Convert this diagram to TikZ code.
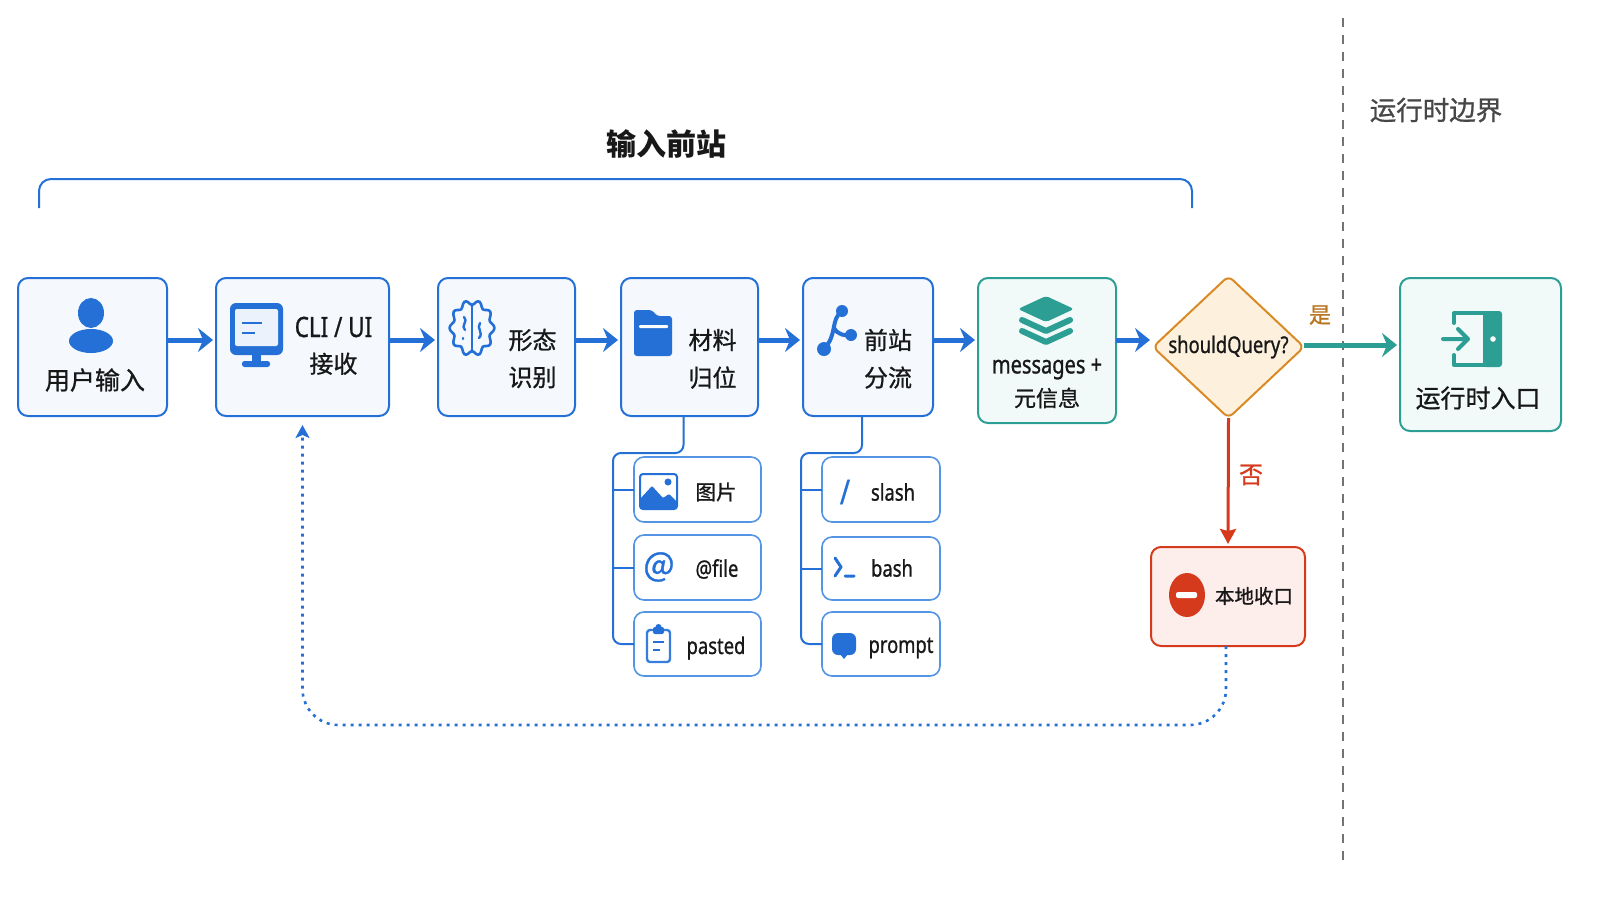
\documentclass[tikz,border=0pt]{standalone}
\usepackage{fontspec}
\usepackage{xcolor}
\setmainfont{Noto Sans CJK SC}[UprightFeatures={FakeBold=0.9}]
\newfontfamily\latinfont[FakeStretch=0.8,FakeBold=0.9]{Noto Sans}
\usetikzlibrary{arrows.meta,shapes.geometric,positioning}
\definecolor{flowblue}{RGB}{36,112,214}
\definecolor{subblue}{RGB}{84,148,228}
\definecolor{paleblue}{RGB}{245,249,254}
\definecolor{flowteal}{RGB}{44,158,148}
\definecolor{paleteal}{RGB}{241,250,249}
\definecolor{gateorange}{RGB}{217,138,36}
\definecolor{paleorange}{RGB}{253,241,222}
\definecolor{stopred}{RGB}{214,58,28}
\definecolor{palered}{RGB}{253,237,235}
\definecolor{inktext}{RGB}{24,24,24}

\begin{document}
\begin{tikzpicture}[
    x=1pt, y=-1pt,
    block/.style={rectangle, draw=flowblue, fill=paleblue, line width=2pt, rounded corners=10pt, outer sep=0pt, minimum height=138pt},
    tealblock/.style={block, draw=flowteal, fill=paleteal},
    subblock/.style={rectangle, draw=subblue, fill=white, line width=1.6pt, rounded corners=10pt, outer sep=0pt, minimum height=64pt},
    caption/.style={font=\fontsize{24}{28}\selectfont, text=inktext, inner sep=0pt},
    subcaption/.style={font=\latinfont\fontsize{23}{27}\selectfont, text=inktext, inner sep=0pt},
    arrow/.style={-{Stealth[length=15pt,width=24pt,inset=5pt]}, line width=5pt, flowblue, shorten >=3pt},
    tree/.style={flowblue, line width=2pt, rounded corners=8pt},
    iconline/.style={draw=flowblue, line width=3pt, line cap=round, line join=round}
]
\useasboundingbox (0,0) rectangle (1600,900);

% Main pipeline
\coordinate (flow) at (0,340);
\node[block, minimum width=149pt, anchor=north west] (user) at (18,278) {};
\node[block, minimum width=173pt, right=49pt of user.north east, anchor=north west] (cli) {};
\node[block, minimum width=137pt, right=49pt of cli.north east, anchor=north west] (shape) {};
\node[block, minimum width=137pt, right=46pt of shape.north east, anchor=north west] (material) {};
\node[block, minimum width=130pt, right=45pt of material.north east, anchor=north west] (split) {};
\node[tealblock, minimum width=138pt, minimum height=145pt, right=45pt of split.north east, anchor=north west] (meta) {};
\node[diamond, draw=gateorange, fill=paleorange, line width=2pt, rounded corners=6pt, aspect=1.06, inner sep=0pt, outer sep=0pt, minimum width=151pt, minimum height=142pt, font=\latinfont\fontsize{23}{27}\selectfont, text=inktext] (query) at (1228.5,347) {\raisebox{-3pt}{shouldQuery?}};
\node[tealblock, minimum width=161pt, minimum height=153pt, anchor=north west] (entry) at (1400,278) {};
\node[block, draw=stopred, fill=palered, minimum width=154pt, minimum height=99pt, anchor=north west] (local) at (1151,547) {};

% Captions
\node[caption, font=\fontsize{25}{29}\selectfont] (usertext) at (95,380) {用户输入};
\node[caption, font=\latinfont\fontsize{28}{32}\selectfont, xshift=31pt, yshift=20pt] (clitext) at (cli) {CLI / UI};
\node[caption, below=15pt of clitext] (clitexttwo) {接收};
\node[caption, xshift=26pt, yshift=7pt] (shapetext) at (shape) {形态};
\node[caption, below=15pt of shapetext] (shapetexttwo) {识别};
\node[caption, xshift=23pt, yshift=7pt] (materialtext) at (material) {材料};
\node[caption, below=15pt of materialtext] (materialtexttwo) {归位};
\node[caption, xshift=20pt, yshift=7pt] (splittext) at (split) {前站};
\node[caption, below=15pt of splittext] (splittexttwo) {分流};
\node[caption, font=\latinfont\fontsize{25}{29}\selectfont] (metatext) at (1047,369) {messages +};
\node[caption, font=\fontsize{22}{26}\selectfont] (metatexttwo) at (1047,398) {元信息};
\node[caption, font=\fontsize{25}{29}\selectfont] (entrytext) at (1478,398) {运行时入口};
\node[caption, font=\fontsize{19.5}{24}\selectfont] (localtext) at (1254,596) {本地收口};

% Material and routing items
\node[subblock, minimum width=127pt, minimum height=65pt, anchor=north west] (image) at (634,457) {};
\node[subblock, minimum width=127pt, minimum height=65pt, anchor=north west] (file) at (634,535) {};
\node[subblock, minimum width=127pt, anchor=north west] (pasted) at (634,612) {};
\node[subblock, minimum width=118pt, minimum height=65pt, anchor=north west] (slash) at (822,457) {};
\node[subblock, minimum width=118pt, minimum height=63pt, anchor=north west] (bash) at (822,537) {};
\node[subblock, minimum width=118pt, anchor=north west] (prompt) at (822,612) {};
\node[caption, font=\fontsize{20.5}{24}\selectfont] (imagetext) at (716,492) {图片};
\node[subcaption] (filetext) at (717,569) {@file};
\node[subcaption] (pastedtext) at (716,648) {pasted};
\node[subcaption] (slashtext) at (893,492) {slash};
\node[subcaption] (bashtext) at (892,568) {bash};
\node[subcaption] (prompttext) at (901,648) {prompt};

% Bracket and boundary
\coordinate (bracketleft) at (39,208);
\coordinate (bracketright) at (1192,208);
\draw[flowblue, line width=2pt, rounded corners=12pt] (bracketleft) -- (39,179) -- (1192,179) -- (bracketright);
\coordinate (boundtop) at (1343,18);
\coordinate (boundend) at (1343,862);
\draw[black!55, line width=2.8pt, dash pattern=on 9pt off 8pt] (boundtop) -- (boundend);

% Arrows
\foreach \from/\to in {user/cli, cli/shape, shape/material, material/split, split/meta}
    \draw[arrow] (\from.east |- flow) -- (\to.west |- flow);
\draw[arrow] (meta.east |- flow) -- (query.west |- flow);
\draw[arrow, flowteal] ([yshift=2pt]query.east) -- ([yshift=2pt]query.east -| entry.west);
\draw[arrow, stopred, line width=3pt, -{Stealth[length=15pt,width=16pt,inset=2pt]}] (query.south) -- (local.north);
\coordinate (returnline) at (0,725);
\draw[flowblue, line width=2.6pt, dash pattern=on 3pt off 5pt, rounded corners=36pt, -{Stealth[length=13pt,width=14pt,inset=3pt]}, shorten >=9pt] ([xshift=-2pt]local.south) |- (cli.south |- returnline) -- (cli.south);

% Trees under the pipeline
\coordinate (leftrail) at (613,453);
\coordinate (rightrail) at (801,453);
\draw[tree] ([xshift=-6pt]material.south) |- (leftrail) |- (pasted.west);
\draw[tree] (leftrail |- image.west) -- (image.west);
\draw[tree] (leftrail |- file.west) -- (file.west);
\draw[tree] ([xshift=-6pt]split.south) |- (rightrail) |- (prompt.west);
\draw[tree] (rightrail |- slash.west) -- (slash.west);
\draw[tree] (rightrail |- bash.west) -- (bash.west);

% Labels
\node[font=\fontsize{30}{34}\selectfont\bfseries, text=inktext, inner sep=0pt] (fronttitle) at (666,144) {输入前站};
\node[font=\fontsize{26.5}{30}\selectfont, text=black!72, inner sep=0pt] (runtimetitle) at (1436,110) {运行时边界};
\node[font=\fontsize{22}{26}\selectfont, text=gateorange!85!black, inner sep=0pt] (yestext) at (1320,315) {是};
\node[font=\fontsize{24}{28}\selectfont, text=stopred, inner sep=0pt] (notext) at (1251,475) {否};

% Icons
\fill[flowblue] (91,313) ellipse [x radius=13, y radius=15];
\fill[flowblue] (91,341) ellipse [x radius=22, y radius=12];
\fill[flowblue, rounded corners=6pt] (230,303) rectangle (283,355);
\fill[paleblue!70!subblue!35, rounded corners=2pt] (235,309) rectangle (278,346);
\fill[flowblue] (252,355) rectangle (261,362);
\fill[flowblue, rounded corners=2.5pt] (242,361) rectangle (270,367);
\draw[flowblue, line width=2.4pt] (242,323) -- (262,323) (242,333) -- (255,333);
\draw[iconline, line width=2.6pt] plot[smooth cycle, domain=0:355, samples=72, variable=\t] ({472+(20.5+2*cos(10*\t))*cos(\t)},{328+(25.5+2.5*cos(10*\t))*sin(\t)});
\draw[iconline, line width=2.6pt] (472,304) -- (472,352);
\draw[iconline, line width=2.4pt] (464,317) .. controls (469,321) and (460,326) .. (465,330) (480,323) .. controls (476,328) and (484,333) .. (479,338) (463,338) -- (463,339);
\fill[flowblue, rounded corners=3pt] (634,310) -- (652,310) -- (657,316) -- (672,316) -- (672,356) -- (634,356) -- cycle;
\fill[white, rounded corners=1pt] (639,325) rectangle (668,328);
\draw[flowblue, line width=4pt, line cap=round] (842,311) .. controls (830,320) and (838,334) .. (824,349) (834,328) .. controls (838,335) and (845,336) .. (851,335);
\fill[flowblue] (842,311) circle (6) (824,349) circle (7) (851,335) circle (6);
\fill[flowteal, rounded corners=3pt] (1046,296) -- (1074,309) -- (1046,322) -- (1018,309) -- cycle;
\draw[flowteal, line width=6pt, line cap=round, line join=round] (1022,320) -- (1046,331) -- (1070,320) (1022,331) -- (1046,342) -- (1070,331);
\draw[flowteal, line width=4pt, line cap=round, line join=round] (1454,323) |- (1486,313) (1454,355) |- (1486,365);
\fill[flowteal, rounded corners=3pt] (1483,311) rectangle (1502,367);
\fill[white] (1493,339) circle (2.8);
\draw[flowteal, line width=4pt, line cap=round, line join=round] (1443,339) -- (1468,339) (1458,329) -- (1468,339) -- (1458,349);
\fill[stopred] (1187,595) ellipse [x radius=18, y radius=22];
\fill[white, rounded corners=2pt] (1176,592) rectangle (1197,598);
% Item icons
\draw[flowblue, fill=white, line width=2pt, rounded corners=3pt] (640,474) rectangle (677,509);
\fill[flowblue, rounded corners=1pt] (640,509) -- (640,499) -- (652,486) -- (663,498) -- (669,494) -- (677,502) -- (677,509) -- cycle;
\fill[flowblue] (668,482) circle (3.5);
\node[font=\fontsize{33}{36}\selectfont, text=flowblue, inner sep=0pt] (aticon) at (659,567) {@};
\draw[subblue!40!flowblue, line width=2.4pt, rounded corners=3pt] (647,630) rectangle (670,662);
\fill[flowblue, rounded corners=2pt] (653,627) rectangle (664,634);
\fill[flowblue] (658.5,627) circle (3);
\draw[flowblue, line width=2.2pt] (653,642) -- (664,642) (653,650) -- (660,650);
\node[font=\latinfont\fontsize{34}{38}\selectfont, text=flowblue, inner sep=0pt] (slashicon) at (845,492) {/};
\draw[iconline] (835,558) -- (841,567) -- (835,576) (845,576) -- (854,576);
\fill[flowblue, rounded corners=6pt] (832,633) rectangle (856,655);
\fill[flowblue] (840,654) -- (848,654) -- (844,659) -- cycle;
\end{tikzpicture}
\end{document}
